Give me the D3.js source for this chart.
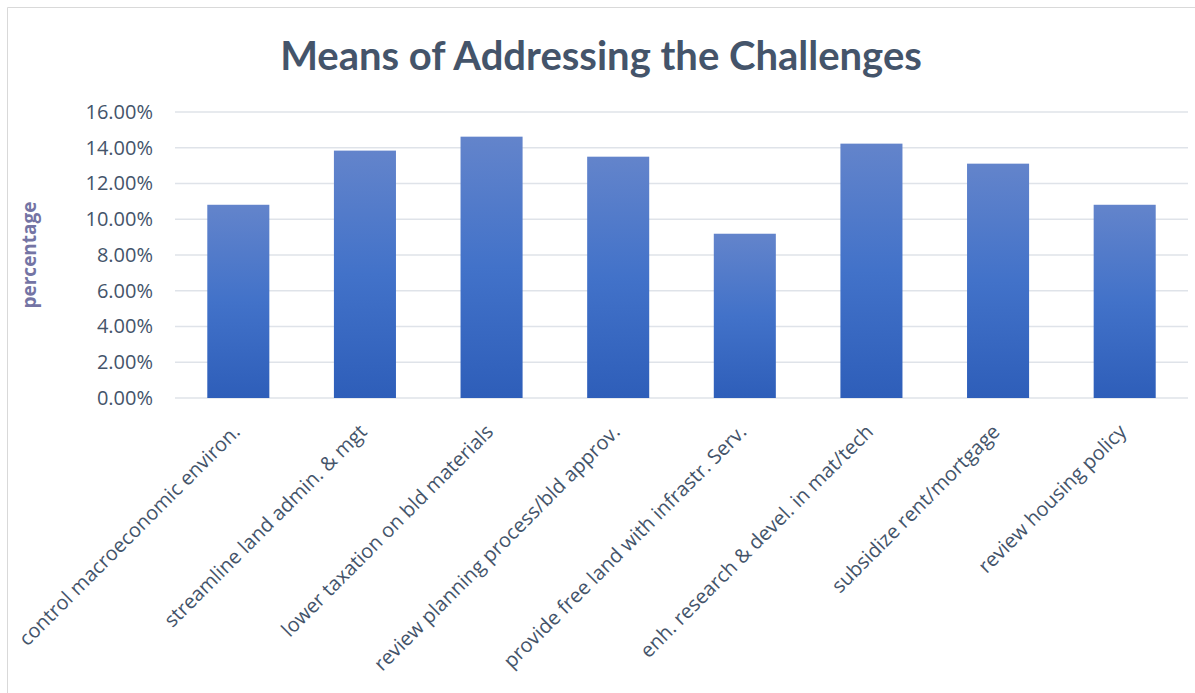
<!DOCTYPE html>
<html lang="en">

<head>
    <meta charset="UTF-8">
    <title>Means of Addressing the Challenges</title>
    <script src="https://cdnjs.cloudflare.com/ajax/libs/d3/7.8.5/d3.min.js"></script>
    <style>
        body { margin: 0; background: #fff; }
        text { font-family: "Open Sans", Lato, sans-serif; }
        #title { font-family: Lato, sans-serif; }
    </style>
</head>

<body>
    <script>
        const categories = [
            'control macroeconomic environ.',
            'streamline land admin. & mgt',
            'lower taxation on bld materials',
            'review planning process/bld approv.',
            'provide free land with infrastr. Serv.',
            'enh. research & devel. in mat/tech',
            'subsidize rent/mortgage',
            'review housing policy'
        ];
        const values = [0.1081, 0.1384, 0.1462, 0.1350, 0.0919, 0.1423, 0.1311, 0.1081];
        const yTicks = [0, 0.02, 0.04, 0.06, 0.08, 0.10, 0.12, 0.14, 0.16];

        const w = 1195;
        const h = 693;
        const margin = { top: 112, right: 7, bottom: 295, left: 175 };

        const svg = d3.select('body')
            .append('svg')
            .attr('width', w)
            .attr('height', h);

        // frame
        svg.append('path')
            .attr('d', `M7.5,${h} V7.5 H${w}`)
            .attr('fill', 'none')
            .attr('stroke', '#d9d9d9')
            .attr('stroke-width', 1);

        const grad = svg.append('defs').append('linearGradient')
            .attr('id', 'barGrad')
            .attr('x1', 0).attr('y1', 0).attr('x2', 0).attr('y2', 1);
        grad.append('stop').attr('offset', '0%').attr('stop-color', '#6384cb');
        grad.append('stop').attr('offset', '50%').attr('stop-color', '#4272c9');
        grad.append('stop').attr('offset', '100%').attr('stop-color', '#2e5eb9');

        const xScale = d3.scaleBand()
            .domain(categories)
            .range([margin.left, w - margin.right])
            .paddingInner(0.51)
            .paddingOuter(0.255);

        const yScale = d3.scaleLinear()
            .domain([0, 0.16])
            .range([h - margin.bottom, margin.top]);

        // gridlines
        svg.append('g')
            .selectAll('line')
            .data(yTicks)
            .enter()
            .append('line')
            .attr('x1', margin.left)
            .attr('x2', w - margin.right)
            .attr('y1', d => yScale(d))
            .attr('y2', d => yScale(d))
            .attr('stroke', '#dfe3e9')
            .attr('stroke-width', 1.5);

        svg.selectAll('rect.bar')
            .data(values)
            .enter()
            .append('rect')
            .attr('class', 'bar')
            .attr('x', (d, i) => xScale(categories[i]))
            .attr('y', d => yScale(d))
            .attr('width', xScale.bandwidth())
            .attr('height', d => yScale(0) - yScale(d))
            .attr('fill', 'url(#barGrad)');

        // y axis
        const yAxis = d3.axisLeft(yScale)
            .tickValues(yTicks)
            .tickFormat(d3.format('.2%'))
            .tickSize(0)
            .tickPadding(22);

        const yG = svg.append('g')
            .attr('id', 'y-axis')
            .attr('transform', `translate(${margin.left}, 0)`)
            .call(yAxis);
        yG.select('.domain').remove();
        yG.selectAll('text')
            .attr('font-size', 20)
            .attr('fill', '#44546a');

        // x axis
        const xAxis = d3.axisBottom(xScale).tickSize(0).tickPadding(0);
        const xG = svg.append('g')
            .attr('id', 'x-axis')
            .attr('transform', `translate(0, ${h - margin.bottom})`)
            .call(xAxis);
        xG.select('.domain').remove();
        xG.selectAll('text')
            .attr('font-size', 20)
            .attr('fill', '#44546a')
            .attr('text-anchor', 'end')
            .attr('dy', null)
            .attr('y', 0)
            .attr('transform', 'translate(3, 35) rotate(-45)');

        // title
        svg.append('text')
            .attr('id', 'title')
            .attr('x', 601)
            .attr('y', 70)
            .attr('text-anchor', 'middle')
            .attr('font-size', 40)
            .attr('font-weight', 'bold')
            .attr('fill', '#44546a')
            .text('Means of Addressing the Challenges');

        // y label
        svg.append('text')
            .attr('transform', `translate(36, ${yScale(0.08)}) rotate(-90)`)
            .attr('text-anchor', 'middle')
            .attr('font-size', 19)
            .attr('font-weight', 'bold')
            .attr('fill', '#7474a4')
            .text('percentage');
    </script>
</body>

</html>
